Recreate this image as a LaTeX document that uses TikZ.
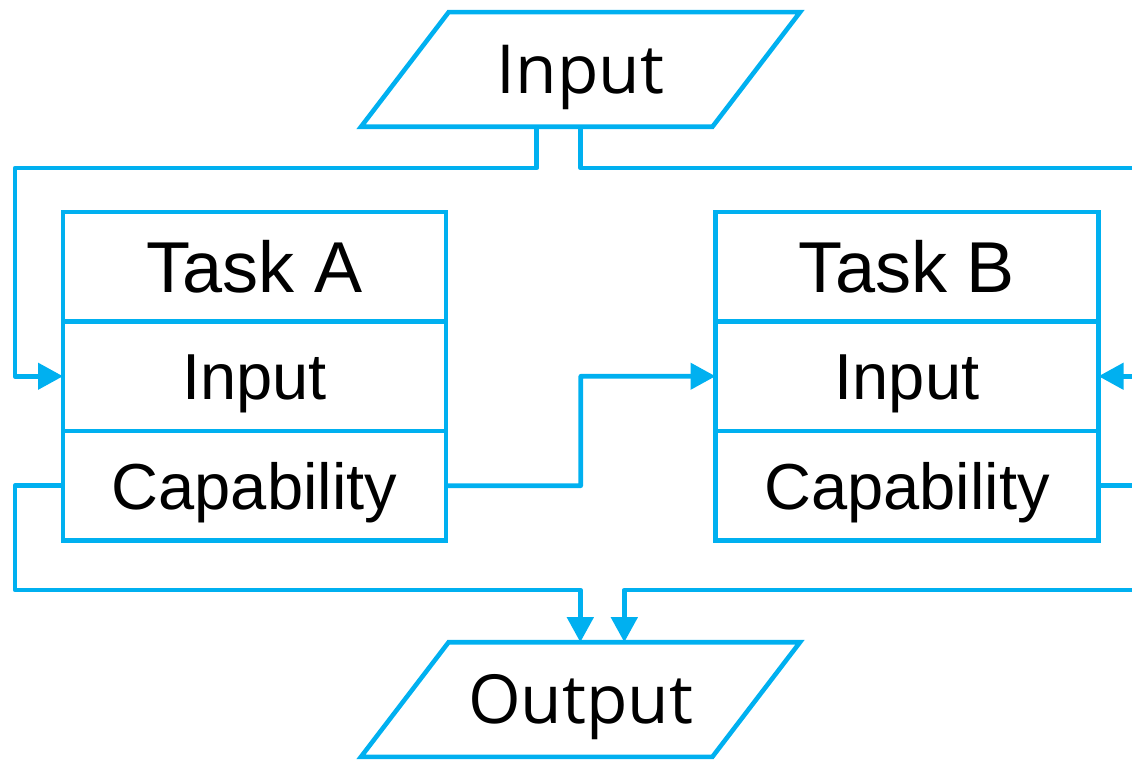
\documentclass[tikz,border=0pt]{standalone}
\usepackage{fontspec}
\setmainfont{Liberation Sans}
\newfontfamily\iofont{Open Sans}
\usetikzlibrary{calc,positioning,shapes.geometric,arrows.meta}
\definecolor{flowblue}{HTML}{00B0F0}
\tikzset{
  box/.style={draw=flowblue,line width=2.6pt,rectangle,minimum width=7.66cm,minimum height=2.19cm,
    outer sep=0pt,inner sep=0pt,text depth=0pt},
  title/.style={box,font=\fontsize{41}{49}\selectfont,text height=29.3pt},
  cell/.style={box,font=\fontsize{37}{44}\selectfont,text height=26.5pt},
  io/.style={draw=flowblue,line width=2.6pt,trapezium,trapezium left angle=52.6,trapezium right angle=127.4,
    trapezium stretches body=true,minimum width=8.78cm,outer sep=0pt,inner xsep=0pt,inner ysep=18.85pt,
    font=\iofont\fontsize{38.5}{46}\selectfont,text height=27.5pt,text depth=0pt},
  wire/.style={draw=flowblue,line width=2.6pt,line join=round},
  flow/.style={wire,-{Triangle[length=0.5cm,width=0.52cm]}}
}
\begin{document}
\begin{tikzpicture}
\useasboundingbox (0,0) rectangle (22.64,15.18);
\node[io] (in) at (11.61,13.79) {Input};
\node[io] (out) at (11.61,1.19) {Output};
\node[title] (taskA) at (5.09,9.845) {Task A};
\node[cell,below=0pt of taskA] (taskAin) {Input};
\node[cell,below=0pt of taskAin] (taskAcap) {Capability};
\node[title] (taskB) at (18.14,9.845) {Task B};
\node[cell,below=0pt of taskB] (taskBin) {Input};
\node[cell,below=0pt of taskBin] (taskBcap) {Capability};
\coordinate (tl) at (0.3,11.82); % upper bus
\coordinate (bl) at (0.3,3.38); % lower bus
\coordinate (redge) at (23,0); % off the right edge
\draw[flow] (in.bottom side) |- (tl) |- (taskAin.west);
\draw[wire] ([xshift=0.88cm]in.bottom side) |- (tl -| redge);
\draw[flow] (taskAcap.east) -- ($(taskAcap.east)!0.5!(taskBcap.west)$) |- (taskBin.west);
\draw[flow] (taskAcap.west) -| (bl) -| ([xshift=-0.88cm]out.top side);
\draw[flow] (bl -| redge) -| (out.top side);
\draw[flow] (taskBin.east -| redge) -- (taskBin.east);
\draw[wire] (taskBcap.east) -- (taskBcap.east -| redge);
\end{tikzpicture}
\end{document}
